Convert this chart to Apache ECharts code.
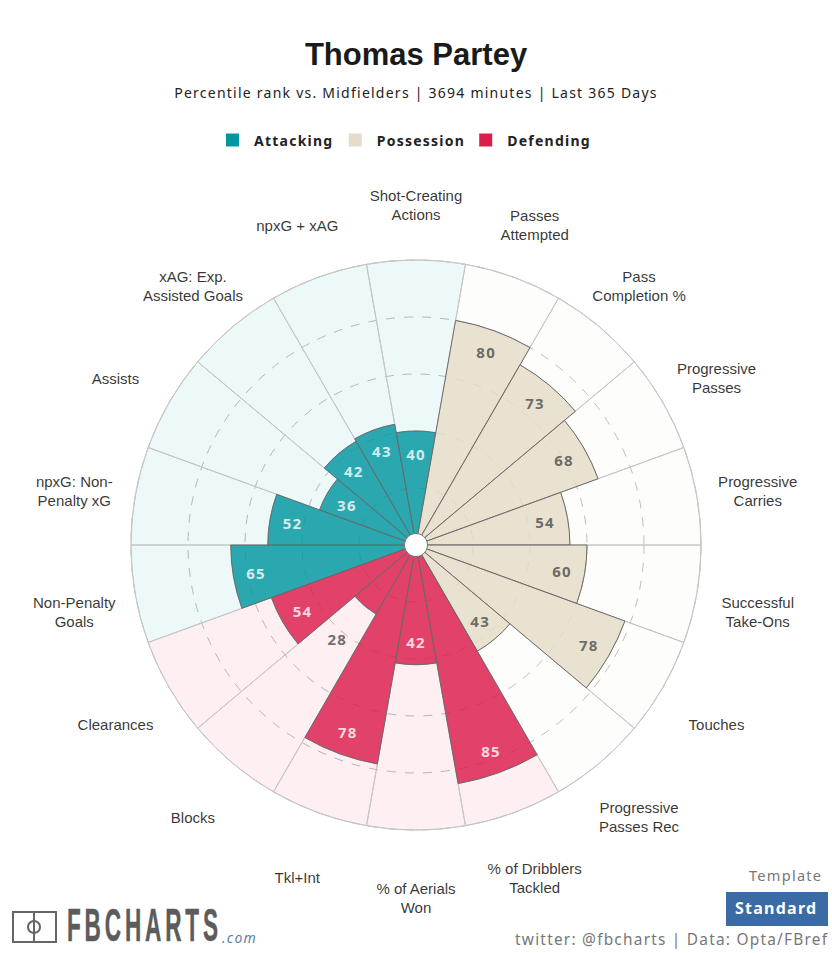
<!DOCTYPE html>
<html>
<head>
<meta charset="utf-8">
<style>
html, body { margin: 0; padding: 0; background: #fff; }
#chart { width: 832px; height: 953px; }
/* canvas text has no tracking, so the spaced labels get it here */
svg text[style*="Noto Sans"] { letter-spacing: 1.24px; }
svg text[style*="Narrow"] { letter-spacing: 8px; }
</style>
<script src="https://cdn.jsdelivr.net/npm/echarts@6/dist/echarts.min.js"></script>
</head>
<body>
<div id="chart"></div>
<script>
// clockwise from the top sector
const categories = [
    'Shot-Creating\nActions', 'Passes\nAttempted', 'Pass\nCompletion %', 'Progressive\nPasses',
    'Progressive\nCarries', 'Successful\nTake-Ons', 'Touches', 'Progressive\nPasses Rec',
    '% of Dribblers\nTackled', '% of Aerials\nWon', 'Tkl+Int', 'Blocks', 'Clearances',
    'Non-Penalty\nGoals', 'npxG: Non-\nPenalty xG', 'Assists', 'xAG: Exp.\nAssisted Goals', 'npxG + xAG'
]
const percentiles = [40, 80, 73, 68, 54, 60, 78, 43, 85, 42, 78, 28, 54, 65, 52, 36, 42, 43]
const groups = ['Attacking', 'Possession', 'Possession', 'Possession', 'Possession', 'Possession',
    'Possession', 'Possession', 'Defending', 'Defending', 'Defending', 'Defending', 'Defending',
    'Attacking', 'Attacking', 'Attacking', 'Attacking', 'Attacking']
const legendNames = ['Attacking', 'Possession', 'Defending']
const radiusTicks = [0, 20, 40, 60, 80, 100]

const rgb = {Attacking: '0,150,159', Possession: '228,220,200', Defending: '220,28,76'}
const narrow = '"Liberation Sans", Arial, sans-serif'
const spaced = '"Noto Sans", sans-serif'

function groupSeries(name) {
    return {
        name: name,
        type: 'bar',
        coordinateSystem: 'polar',
        stack: 'rank',
        barWidth: '100%',
        z: 3,
        itemStyle: {color: 'rgba(' + rgb[name] + ',0.83)', borderColor: '#6b6b6b', borderWidth: 1},
        data: percentiles.map((v, i) => groups[i] === name ? v : null)
    }
}

// labels sit just inside the bar end, small bars get it pushed outside
const valueLabels = percentiles.map((v, i) => {
    let dark = groups[i] === 'Possession' || v < 30
    return {
        value: [v < 30 ? v + 15 : v - 8, i, v],
        label: {color: dark ? '#4a4a4a' : '#fff'}
    }
})

const option = {
    animation: false,
    backgroundColor: '#fff',
    title: {
        text: 'Thomas Partey',
        subtext: 'Percentile rank vs. Midfielders | 3694 minutes | Last 365 Days',
        left: 411,
        top: 34,
        textAlign: 'center',
        itemGap: 15,
        textStyle: {fontFamily: narrow, fontSize: 31, fontWeight: 'bold', color: '#1a1a1a'},
        subtextStyle: {fontFamily: spaced, fontSize: 14, color: '#222'}
    },
    legend: {
        data: legendNames.map(n => ({name: n, itemStyle: {color: 'rgb(' + rgb[n] + ')'}})),
        left: 221,
        top: 128,
        icon: 'rect',
        itemWidth: 13,
        itemHeight: 13,
        itemGap: 26.5,
        selectedMode: false,
        itemStyle: {opacity: 1, borderWidth: 0},
        textStyle: {fontFamily: spaced, fontSize: 14, fontWeight: 'bold', color: '#222', padding: [0, 0, 0, 10]}
    },
    polar: {center: [416, 545], radius: 285},
    angleAxis: {
        type: 'category',
        data: categories,
        startAngle: 100,
        clockwise: true,
        boundaryGap: true,
        axisLine: {show: true, lineStyle: {color: '#d0d0d0', width: 1}},
        axisTick: {show: false},
        axisLabel: {show: false},
        splitLine: {show: false}
    },
    radiusAxis: {
        type: 'value',
        min: radiusTicks[0],
        max: radiusTicks[radiusTicks.length - 1],
        interval: radiusTicks[1] - radiusTicks[0],
        axisLine: {show: false},
        axisTick: {show: false},
        axisLabel: {show: false},
        splitLine: {show: true, lineStyle: {color: '#bdbdbd', width: 1, type: [9, 9]}}
    },
    series: [
        ...legendNames.map(groupSeries),
        {
            // pale rest of each sector up to the 100 ring
            name: 'rest',
            type: 'bar',
            coordinateSystem: 'polar',
            stack: 'rank',
            barWidth: '100%',
            z: 2,
            itemStyle: {borderColor: '#c6c6c6', borderWidth: 1},
            data: percentiles.map((v, i) => ({
                value: radiusTicks[radiusTicks.length - 1] - v,
                itemStyle: {color: 'rgba(' + rgb[groups[i]] + ',0.07)'}
            }))
        },
        {
            name: 'values',
            type: 'scatter',
            coordinateSystem: 'polar',
            clip: false,
            symbolSize: 1,
            z: 5,
            itemStyle: {color: 'transparent'},
            label: {
                show: true,
                position: 'inside',
                formatter: p => p.value[2],
                fontFamily: spaced,
                fontSize: 15,
                fontWeight: 'bold'
            },
            data: valueLabels
        },
        {
            name: 'metrics',
            type: 'scatter',
            coordinateSystem: 'polar',
            clip: false,
            symbolSize: 1,
            z: 5,
            itemStyle: {color: 'transparent'},
            label: {
                show: true,
                position: 'inside',
                offset: [0, 6.5],
                formatter: p => categories[p.value[1]],
                fontFamily: narrow,
                fontSize: 15,
                lineHeight: 19,
                align: 'center',
                color: '#000'
            },
            data: categories.map((c, i) => [121.75, i])
        },
        {
            name: 'hole',
            type: 'scatter',
            coordinateSystem: 'polar',
            clip: false,
            symbolSize: 23,
            z: 6,
            itemStyle: {color: '#fff', borderColor: '#777', borderWidth: 1, opacity: 1},
            data: [[0, 0]]
        }
    ],
    graphic: [
        {type: 'text', left: 749, top: 867, style: {text: 'Template', font: '14.6px ' + spaced, fill: '#777'}},
        {type: 'rect', shape: {x: 726, y: 892, width: 102, height: 34}, style: {fill: '#3a6ba5'}},
        {type: 'text', left: 735, top: 900, style: {text: 'Standard', font: 'bold 16px ' + spaced, fill: '#fff'}},
        {type: 'text', left: 515, top: 932, style: {text: 'twitter: @fbcharts | Data: Opta/FBref', font: '15.4px ' + spaced, fill: '#777'}},
        // fbcharts logo
        {type: 'rect', shape: {x: 13, y: 912, width: 43, height: 30}, style: {fill: 'none', stroke: '#666', lineWidth: 2}},
        {type: 'line', shape: {x1: 34, y1: 912, x2: 34, y2: 942}, style: {stroke: '#666', lineWidth: 2}},
        {type: 'circle', shape: {cx: 34, cy: 927, r: 6}, style: {fill: 'none', stroke: '#666', lineWidth: 2}},
        {type: 'text', x: 67, y: 902, scaleX: 0.48, style: {text: 'FBCHARTS', font: 'bold 47px "Liberation Sans Narrow", ' + narrow, fill: '#5c5c5c', stroke: '#5c5c5c', lineWidth: 0.5}},
        {type: 'text', left: 222, top: 930, style: {text: '.com', font: 'italic 14px ' + spaced, fill: '#5f7f9c'}}
    ]
}

const chart = echarts.init(document.getElementById('chart'), null, {renderer: 'svg'})
chart.setOption(option)
</script>
</body>
</html>
